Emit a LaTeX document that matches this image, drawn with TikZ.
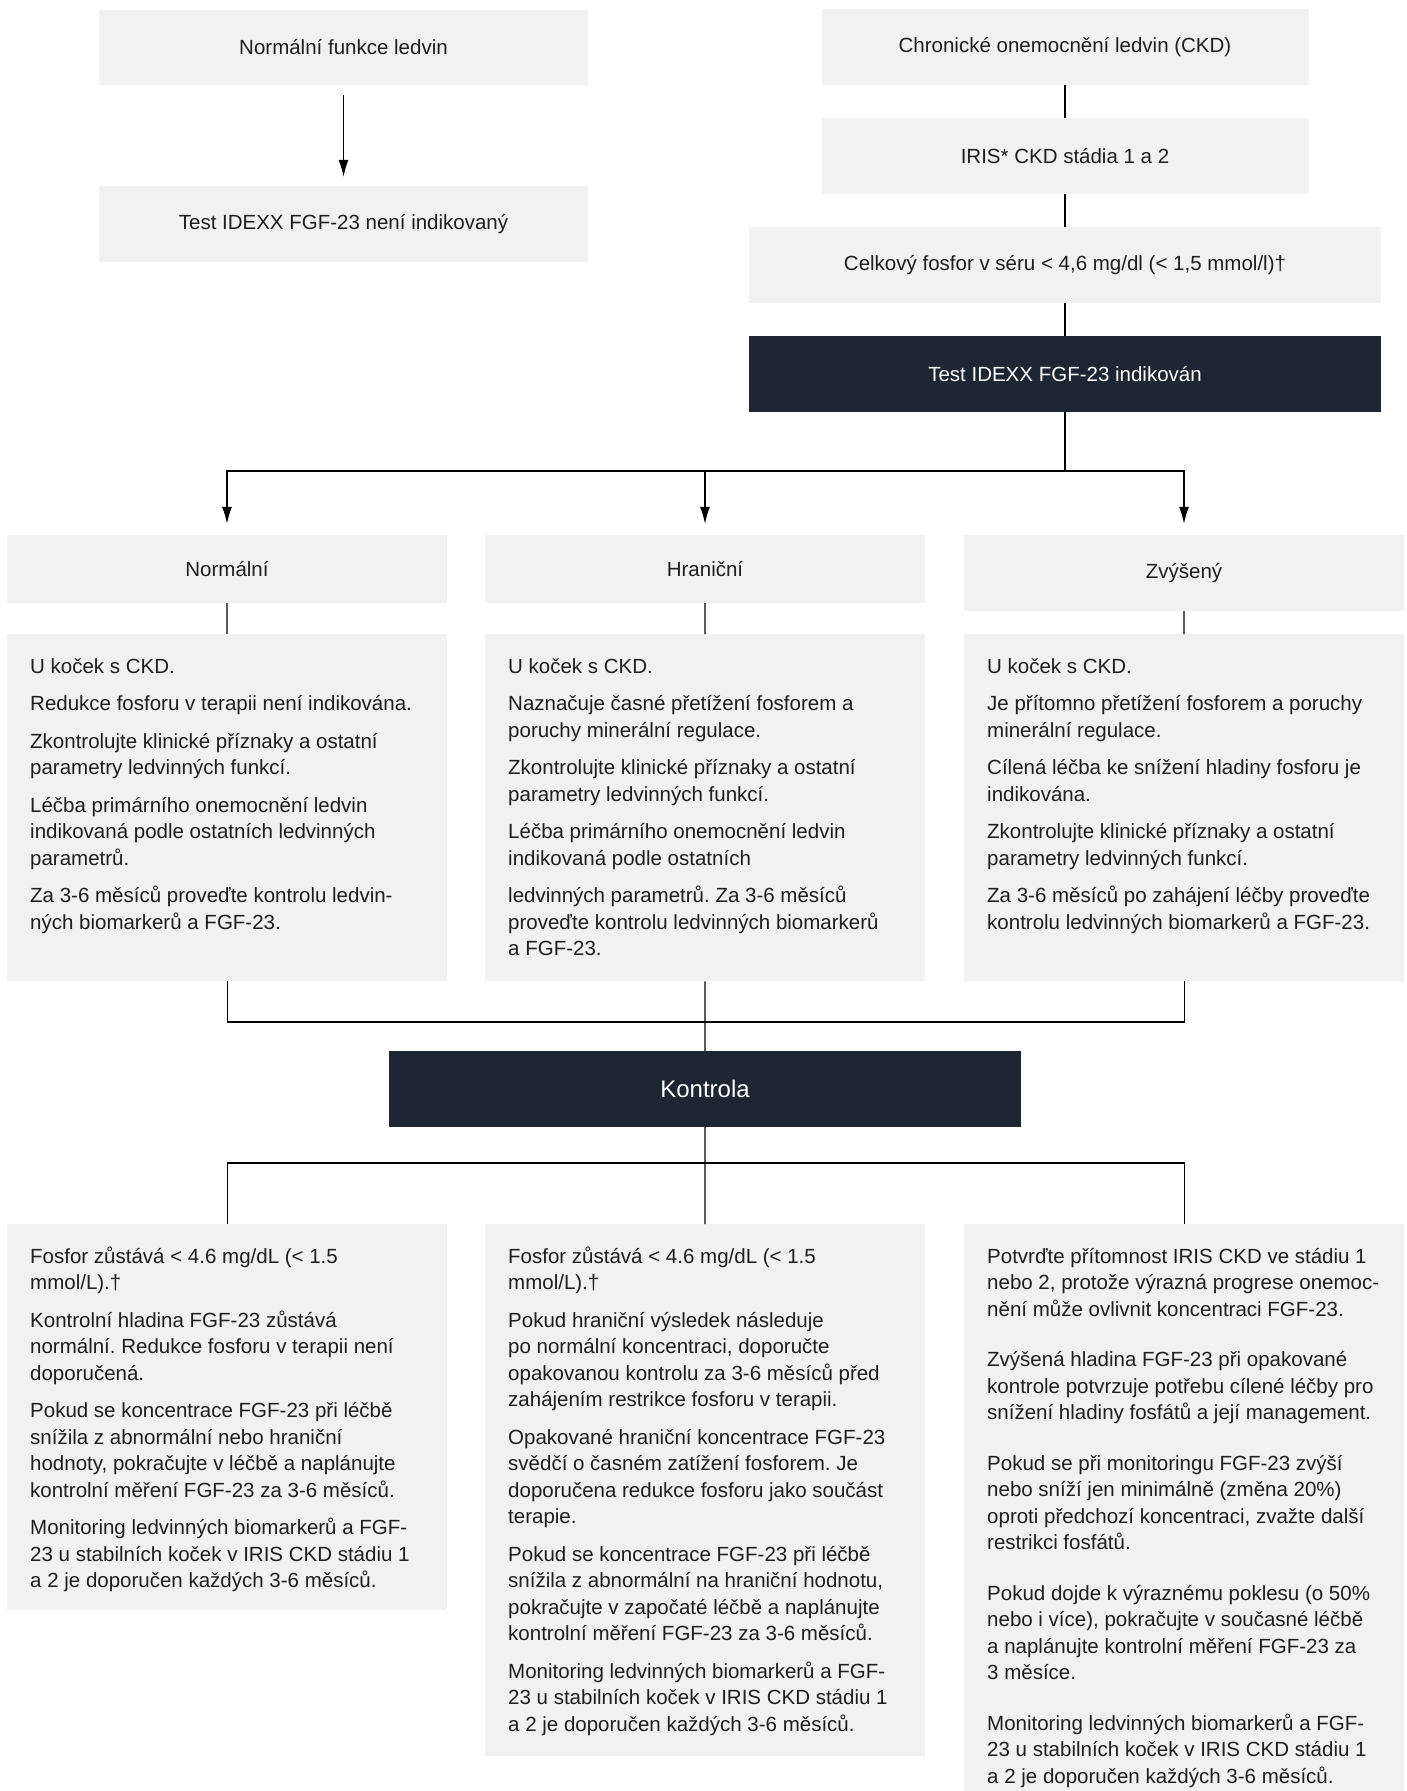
\documentclass[tikz,border=0pt]{standalone}
\usepackage{fontspec}
\setmainfont{Liberation Sans}
\usetikzlibrary{arrows.meta}
\definecolor{boxgray}{HTML}{F1F1F1}
\definecolor{navy}{HTML}{1C2733}
\definecolor{ink}{HTML}{1E1E1E}
\newcommand{\firststrut}{\rule{0pt}{22pt}}
\frenchspacing

\begin{document}
\begin{tikzpicture}[x=1pt,y=-1pt,
  headbox/.style={fill=boxgray,text=ink,inner sep=0,font=\fontsize{20.5}{24}\selectfont},
  darkbox/.style={fill=navy,text=white,inner sep=0,font=\fontsize{20.5}{24}\selectfont},
  panel/.style={fill=boxgray,inner sep=0,minimum width=440,anchor=north west},
  bodytext/.style={text=ink,inner sep=0,align=left,anchor=north west,font=\fontsize{20.5}{26.5}\selectfont},
  conn/.style={line width=1.3pt},
  arrowconn/.style={conn,-{Latex[length=17pt,width=10pt]}}]

\useasboundingbox (0,0) rectangle (1407,1791);

% left branch
\node[headbox,minimum width=489,minimum height=75] (normfun) at (343.5,47.5) {Normální funkce ledvin};
\node[headbox,minimum width=489,minimum height=76] (notest) at (343.5,224) {Test IDEXX FGF-23 není indikovaný};

% right branch
\node[headbox,minimum width=487,minimum height=76] (ckd) at (1065,47) {Chronické onemocnění ledvin (CKD)};
\node[headbox,minimum width=487,minimum height=76] (iris) at (1065,156) {IRIS* CKD stádia 1 a 2};
\node[headbox,minimum width=632,minimum height=76] (fosfor) at (1065,265) {Celkový fosfor v séru < 4,6 mg/dl (< 1,5 mmol/l)†};
\node[darkbox,minimum width=632,minimum height=76] (fgftest) at (1065,374) {Test IDEXX FGF-23 indikován};

% results
\node[headbox,minimum width=440,minimum height=68] (normal) at (227,569) {Normální};
\node[headbox,minimum width=440,minimum height=68] (hranicni) at (705,569) {Hraniční};
\node[headbox,minimum width=440,minimum height=76] (zvyseny) at (1184,573) {Zvýšený};

\node[panel,minimum height=347] (normalpanel) at (7,634) {};
\node[panel,minimum height=347] (hranicnipanel) at (485,634) {};
\node[panel,minimum height=347] (zvysenypanel) at (964,634) {};

\node[bodytext] (normaltext) at ([shift={(23,17)}]normalpanel.north west) {\firststrut U koček s CKD.\\[11pt]
Redukce fosforu v terapii není indikována.\\[11pt]
Zkontrolujte klinické příznaky a ostatní\\parametry ledvinných funkcí.\\[11pt]
Léčba primárního onemocnění ledvin\\indikovaná podle ostatních ledvinných\\parametrů.\\[11pt]
Za 3-6 měsíců proveďte kontrolu ledvin-\\ných biomarkerů a FGF-23.};
\node[bodytext] (hranicnitext) at ([shift={(23,17)}]hranicnipanel.north west) {\firststrut U koček s CKD.\\[11pt]
Naznačuje časné přetížení fosforem a\\poruchy minerální regulace.\\[11pt]
Zkontrolujte klinické příznaky a ostatní\\parametry ledvinných funkcí.\\[11pt]
Léčba primárního onemocnění ledvin\\indikovaná podle ostatních\\[11pt]
ledvinných parametrů. Za 3-6 měsíců\\proveďte kontrolu ledvinných biomarkerů\\a FGF-23.};
\node[bodytext] (zvysenytext) at ([shift={(23,17)}]zvysenypanel.north west) {\firststrut U koček s CKD.\\[11pt]
Je přítomno přetížení fosforem a poruchy\\minerální regulace.\\[11pt]
Cílená léčba ke snížení hladiny fosforu je\\indikována.\\[11pt]
Zkontrolujte klinické příznaky a ostatní\\parametry ledvinných funkcí.\\[11pt]
Za 3-6 měsíců po zahájení léčby proveďte\\kontrolu ledvinných biomarkerů a FGF-23.};

% follow-up
\node[darkbox,minimum width=632,minimum height=76,font=\fontsize{24}{28}\selectfont] (kontrola) at (705,1089) {Kontrola};

\node[panel,minimum height=386] (normallow) at (7,1224) {};
\node[panel,minimum height=532] (hranicnilow) at (485,1224) {};
\node[panel,minimum height=567] (zvysenylow) at (964,1224) {};

\node[bodytext] (normallowtext) at ([shift={(23,17)}]normallow.north west) {\firststrut Fosfor zůstává < 4.6 mg/dL (< 1.5\\mmol/L).†\\[11pt]
Kontrolní hladina FGF-23 zůstává\\normální. Redukce fosforu v terapii není\\doporučená.\\[11pt]
Pokud se koncentrace FGF-23 při léčbě\\snížila z abnormální nebo hraniční\\hodnoty, pokračujte v léčbě a naplánujte\\kontrolní měření FGF-23 za 3-6 měsíců.\\[11pt]
Monitoring ledvinných biomarkerů a FGF-\\23 u stabilních koček v IRIS CKD stádiu 1\\a 2 je doporučen každých 3-6 měsíců.};
\node[bodytext] (hranicnilowtext) at ([shift={(23,17)}]hranicnilow.north west) {\firststrut Fosfor zůstává < 4.6 mg/dL (< 1.5\\mmol/L).†\\[11pt]
Pokud hraniční výsledek následuje\\po normální koncentraci, doporučte\\opakovanou kontrolu za 3-6 měsíců před\\zahájením restrikce fosforu v terapii.\\[11pt]
Opakované hraniční koncentrace FGF-23\\svědčí o časném zatížení fosforem. Je\\doporučena redukce fosforu jako součást\\terapie.\\[11pt]
Pokud se koncentrace FGF-23 při léčbě\\snížila z abnormální na hraniční hodnotu,\\pokračujte v započaté léčbě a naplánujte\\kontrolní měření FGF-23 za 3-6 měsíců.\\[11pt]
Monitoring ledvinných biomarkerů a FGF-\\23 u stabilních koček v IRIS CKD stádiu 1\\a 2 je doporučen každých 3-6 měsíců.};
\node[bodytext] (zvysenylowtext) at ([shift={(23,17)}]zvysenylow.north west) {\firststrut Potvrďte přítomnost IRIS CKD ve stádiu 1\\nebo 2, protože výrazná progrese onemoc-\\nění může ovlivnit koncentraci FGF-23.\\[24pt]
Zvýšená hladina FGF-23 při opakované\\kontrole potvrzuje potřebu cílené léčby pro\\snížení hladiny fosfátů a její management.\\[24pt]
Pokud se při monitoringu FGF-23 zvýší\\nebo sníží jen minimálně (změna 20\%)\\oproti předchozí koncentraci, zvažte další\\restrikci fosfátů.\\[24pt]
Pokud dojde k výraznému poklesu (o 50\%\\nebo i více), pokračujte v současné léčbě\\a naplánujte kontrolní měření FGF-23 za\\3 měsíce.\\[24pt]
Monitoring ledvinných biomarkerů a FGF-\\23 u stabilních koček v IRIS CKD stádiu 1\\a 2 je doporučen každých 3-6 měsíců.};

% connectors
\draw[arrowconn,shorten <=10pt,shorten >=9pt] (normfun) -- (notest);
\draw[conn] (ckd) -- (iris);
\draw[conn] (iris) -- (fosfor);
\draw[conn] (fosfor) -- (fgftest);

\coordinate (split) at (fgftest.south |- 0,471);
\draw[conn] (fgftest) -- (split);
\draw[arrowconn,shorten >=11pt] (split) -| (normal);
\draw[arrowconn,shorten >=11pt] (split) -| (zvyseny);
\draw[arrowconn,shorten >=11pt] (hranicni |- split) -- (hranicni);

\draw[conn] (normal) -- (normalpanel);
\draw[conn] (hranicni) -- (hranicnipanel);
\draw[conn] (zvyseny) -- (zvysenypanel);

\coordinate (merge) at (hranicnipanel.south |- 0,1022);
\draw[conn] (normalpanel) |- (merge);
\draw[conn] (zvysenypanel) |- (merge);
\draw[conn] (hranicnipanel) -- (kontrola);

\coordinate (branch) at (kontrola.south |- 0,1163);
\draw[conn] (kontrola) -- (hranicnilow);
\draw[conn] (branch) -| (normallow);
\draw[conn] (branch) -| (zvysenylow);
\end{tikzpicture}
\end{document}
